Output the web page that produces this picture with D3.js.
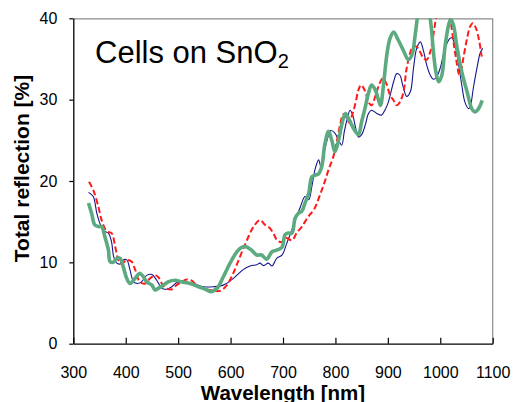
<!DOCTYPE html>
<html>
<head>
<meta charset="utf-8">
<script src="https://cdn.jsdelivr.net/npm/d3@7"></script>
<style>
  body { margin: 0; background: #fff; }
  text { font-family: "Liberation Sans", Arial, sans-serif; }
</style>
</head>
<body>
<script>
const svgWidth = 516
const svgHeight = 402

const margin = { top: 18.3, right: 23.3, bottom: 58.3, left: 73.3 }
const chartWidth = svgWidth - margin.left - margin.right
const chartHeight = svgHeight - margin.top - margin.bottom

// tick labels
const xTicks = [300, 400, 500, 600, 700, 800, 900, 1000, 1100]
const yTicks = [0, 10, 20, 30, 40]

// blue thin solid
const blueWl = [329, 338, 345, 352, 360, 367, 373, 377, 383, 389, 395, 402, 408, 415, 422, 430, 440, 450, 459, 469,
  478, 488, 497, 510, 529, 548, 567, 586, 605, 624, 637, 650, 656, 663, 672, 679, 688, 698, 707, 717,
  726, 733, 742, 749, 755, 761, 768, 772, 777, 784, 791, 799, 806, 812, 817, 822, 828, 833, 838, 844,
  850, 857, 863, 869, 879, 888, 895, 901, 911, 917, 923, 929, 936, 943, 949, 955, 962, 968, 974, 981,
  987, 993, 1000, 1009, 1018, 1022, 1028, 1035, 1041, 1047, 1054, 1057, 1063, 1070, 1076, 1081]
const blueR = [18.6, 18.1, 16.0, 14.6, 13.8, 13.6, 12.5, 10.7, 9.9, 9.8, 10.3, 10.3, 9.1, 7.6, 7.4, 7.6, 8.4, 8.5, 7.8, 6.8,
  6.7, 7.0, 7.5, 7.6, 7.4, 7.0, 7.0, 7.2, 8.0, 9.1, 9.55, 9.7, 9.9, 9.6, 9.9, 9.55, 10.5, 10.9, 12.3, 14.0,
  15.6, 16.8, 18.1, 17.7, 19.3, 21.4, 22.6, 21.8, 23.0, 25.0, 26.2, 25.9, 25.0, 24.4, 26.1, 27.5, 28.7, 28.1, 26.7, 25.4,
  25.7, 26.9, 28.3, 28.7, 28.3, 28.1, 28.8, 29.7, 32.2, 33.2, 33.0, 31.6, 30.4, 31.0, 33.9, 36.3, 37.1, 36.0, 34.3, 33.0,
  32.5, 32.8, 33.9, 36.3, 37.5, 37.6, 36.7, 34.3, 31.8, 29.7, 28.9, 29.1, 31.4, 33.9, 35.7, 36.3]

// red dashed
const redWl = [330, 338, 348, 354, 364, 373, 380, 386, 392, 402, 411, 418, 427, 437, 446, 456, 462, 469, 478, 488,
  497, 507, 516, 526, 535, 548, 561, 580, 593, 605, 618, 631, 644, 656, 666, 675, 683, 689, 698, 706,
  717, 726, 736, 748, 760, 770, 779, 787, 796, 803, 809, 815, 822, 827, 831, 838, 844, 849, 857, 863,
  869, 876, 882, 890, 897, 904, 911, 917, 923, 930, 936, 946, 952, 958, 968, 974, 981, 987, 993, 1002,
  1012, 1020, 1027, 1032, 1036, 1040, 1044, 1051, 1057, 1062, 1068, 1074, 1079]
const redR = [19.9, 18.9, 16.8, 15.2, 13.8, 13.6, 11.9, 10.3, 9.8, 10.3, 10.1, 9.1, 7.6, 7.4, 8.0, 8.4, 8.2, 7.4, 6.8, 6.7,
  7.2, 7.6, 7.9, 7.75, 7.2, 6.8, 6.6, 6.5, 7.2, 8.65, 10.7, 12.7, 14.4, 15.2, 14.6, 14.2, 13.4, 12.7, 12.5, 13.0,
  12.7, 13.6, 14.4, 15.6, 16.6, 18.2, 19.8, 21.4, 23.0, 25.0, 26.9, 28.2, 27.7, 27.1, 27.9, 29.5, 31.2, 31.8, 31.0, 29.7,
  29.3, 30.4, 31.6, 32.6, 32.0, 30.6, 29.9, 29.3, 29.7, 31.0, 33.9, 36.3, 36.6, 36.3, 35.1, 34.9, 35.9, 38.0, 40.3, 41.8,
  42.0, 39.5, 36.3, 34.3, 33.1, 33.6, 35.1, 37.5, 39.0, 39.4, 38.8, 37.3, 35.3]

// green thick
const greenWl = [329, 335, 341, 348, 354, 360, 367, 370, 376, 383, 389, 395, 402, 408, 415, 421, 427, 434, 440, 450,
  456, 462, 472, 481, 494, 507, 523, 539, 555, 561, 574, 586, 599, 612, 621, 631, 640, 650, 659, 669,
  679, 688, 698, 704, 710, 717, 723, 729, 736, 742, 749, 755, 761, 768, 774, 780, 787, 793, 799, 806,
  812, 819, 825, 831, 838, 844, 850, 857, 863, 869, 876, 882, 886, 892, 898, 904, 911, 920, 930, 939,
  946, 952, 957, 963, 970, 977, 983, 987, 992, 997, 1003, 1009, 1016, 1020, 1025, 1032, 1041, 1051, 1060, 1066,
  1073, 1080]
const greenR = [17.3, 16.0, 14.6, 14.4, 14.4, 13.2, 11.5, 10.1, 10.0, 10.5, 10.5, 9.5, 8.0, 7.4, 7.8, 8.3, 8.65, 8.2, 7.6, 7.2,
  6.6, 6.8, 7.2, 7.6, 7.8, 7.6, 7.4, 7.0, 6.6, 6.4, 6.8, 8.2, 9.9, 11.3, 11.85, 11.9, 11.5, 10.9, 10.9, 10.4,
  11.3, 11.5, 11.85, 13.4, 13.6, 13.6, 15.4, 16.0, 16.3, 17.3, 18.5, 20.5, 20.7, 20.9, 21.8, 24.6, 26.1, 25.0, 23.6, 25.0,
  26.9, 28.3, 27.7, 26.9, 26.1, 25.7, 27.3, 29.1, 30.8, 31.8, 31.2, 30.0, 29.3, 32.0, 35.5, 37.5, 38.3, 37.3, 36.0, 34.9,
  35.5, 37.9, 40.4, 42.5, 43.0, 41.5, 38.8, 35.8, 33.3, 32.2, 33.0, 36.5, 39.2, 39.9, 39.2, 36.4, 33.4, 31.0, 28.9, 28.5,
  28.9, 29.9]

const svg = d3.select("body").append("svg")
  .attr("width", svgWidth)
  .attr("height", svgHeight)

const chartG = svg.append("g")
  .attr("transform", `translate(${margin.left}, ${margin.top})`)

const x = d3.scaleLinear().domain([300, 1100]).range([0, chartWidth])
const y = d3.scaleLinear().domain([0, 40]).range([chartHeight, 0])

svg.append("defs").append("clipPath").attr("id", "plotClip")
  .append("rect")
  .attr("width", chartWidth)
  .attr("height", chartHeight)

// gray frame on top and right
chartG.append("path")
  .attr("d", `M0,0.5H${chartWidth}V${chartHeight}`)
  .attr("fill", "none")
  .attr("stroke", "#8c8c8c")
  .attr("stroke-width", 1.2)

const line = d3.line()
  .x(d => x(d[0]))
  .y(d => y(d[1]))
  .curve(d3.curveCatmullRom.alpha(0.5))

const plotArea = chartG.append("g").attr("clip-path", "url(#plotClip)")

plotArea.append("path")
  .datum(blueWl.map((w, i) => [w, blueR[i]]))
  .attr("d", line)
  .attr("fill", "none")
  .attr("stroke", "#16168c")
  .attr("stroke-width", 1.1)

plotArea.append("path")
  .datum(redWl.map((w, i) => [w, redR[i]]))
  .attr("d", line)
  .attr("fill", "none")
  .attr("stroke", "#ff1a1a")
  .attr("stroke-width", 2)
  .attr("stroke-dasharray", "6,3")

plotArea.append("path")
  .datum(greenWl.map((w, i) => [w, greenR[i]]))
  .attr("d", line)
  .attr("fill", "none")
  .attr("stroke", "#5cab80")
  .attr("stroke-width", 3.6)
  .attr("stroke-linejoin", "round")

// axes
const xAxis = d3.axisBottom(x).tickValues(xTicks).tickFormat(d3.format("d"))
  .tickSizeInner(-6).tickSizeOuter(0).tickPadding(23)
const yAxis = d3.axisLeft(y).tickValues(yTicks).tickFormat(d3.format("d"))
  .tickSizeInner(4).tickSizeOuter(0).tickPadding(12)

const xG = chartG.append("g")
  .attr("transform", `translate(0, ${chartHeight})`)
  .call(xAxis)
const yG = chartG.append("g").call(yAxis)

;[xG, yG].forEach(g => {
  g.select(".domain").attr("stroke", "#000").attr("stroke-width", 1.3)
  g.selectAll(".tick line").attr("stroke", "#000").attr("stroke-width", 1.2)
  g.selectAll(".tick text")
    .attr("font-family", "'Liberation Sans', Arial, sans-serif")
    .attr("font-size", "16px")
    .attr("fill", "#000")
})

// titles
svg.append("text")
  .attr("x", margin.left + chartWidth / 2)
  .attr("y", 399.5)
  .attr("text-anchor", "middle")
  .attr("font-size", "20.5px")
  .attr("font-weight", "bold")
  .text("Wavelength [nm]")

svg.append("text")
  .attr("transform", "translate(28.5, 168.5) rotate(-90)")
  .attr("text-anchor", "middle")
  .attr("font-size", "21px")
  .attr("font-weight", "bold")
  .text("Total reflection [%]")

const label = svg.append("text")
  .attr("x", 95)
  .attr("y", 63)
  .attr("font-size", "31px")
label.append("tspan").text("Cells on SnO")
label.append("tspan").attr("font-size", "20px").attr("dy", 5).text("2")
</script>
</body>
</html>
